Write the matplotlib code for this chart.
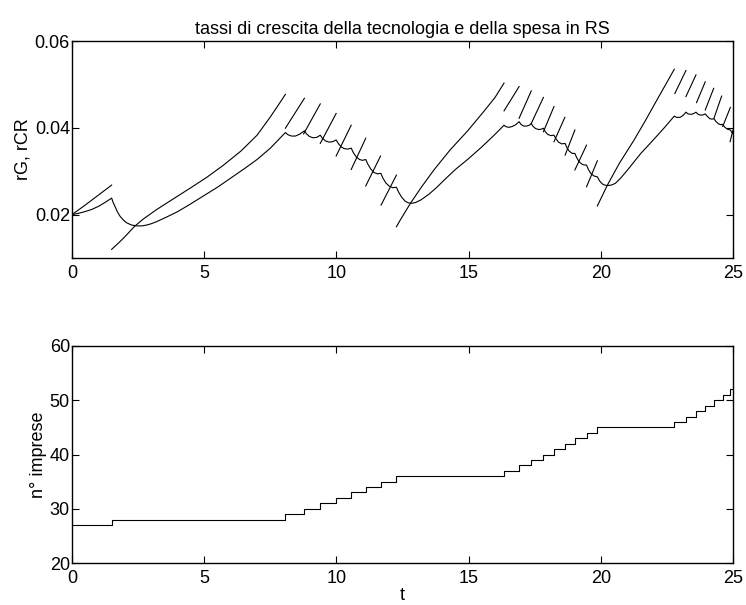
import matplotlib
matplotlib.use("Agg")
import matplotlib.pyplot as plt

plt.rcParams['font.family'] = ['Liberation Sans', 'DejaVu Sans']

# ---- top panel: rG (continuous curve) ----
rG_t = [0.0, 0.25, 0.5, 0.75, 1.0, 1.25, 1.50,
        1.55, 1.63, 1.72, 1.82, 1.95, 2.07, 2.25, 2.45, 2.65, 2.83, 3.0, 3.21, 3.6, 4.0, 4.47,
        5.0, 5.5, 6.0, 6.5, 7.0, 7.5, 8.07,
        8.17, 8.30, 8.45, 8.60, 8.79,
        8.87, 8.98, 9.12, 9.26, 9.39,
        9.47, 9.58, 9.72, 9.86, 9.99,
        10.07, 10.18, 10.30, 10.43, 10.56,
        10.64, 10.75, 10.87, 10.99, 11.11,
        11.19, 11.30, 11.42, 11.55, 11.68,
        11.76, 11.87, 11.99, 12.13, 12.27,
        12.35, 12.47, 12.60, 12.72, 12.85, 13.0, 13.2, 13.5, 13.8, 14.1, 14.5, 15.0, 15.5,
        16.0, 16.34,
        16.40, 16.52, 16.65, 16.78, 16.91,
        16.98, 17.08, 17.20, 17.30, 17.37,
        17.44, 17.54, 17.66, 17.76, 17.83,
        17.90, 17.99, 18.10, 18.23,
        18.30, 18.40, 18.52, 18.65,
        18.72, 18.81, 18.92, 19.02,
        19.09, 19.19, 19.32, 19.46,
        19.53, 19.62, 19.74, 19.87,
        19.95, 20.05, 20.15, 20.25, 20.40, 20.55, 20.75, 21.0, 21.5, 22.0, 22.4, 22.78,
        22.86, 23.00, 23.12, 23.22,
        23.30, 23.42, 23.52, 23.60,
        23.68, 23.78, 23.88, 23.95,
        24.02, 24.12, 24.21, 24.28,
        24.35, 24.45, 24.54, 24.61,
        24.68, 24.78, 24.90,
        24.95, 25.0]
rG_y = [0.0200, 0.0203, 0.0207, 0.0212, 0.0219, 0.0228, 0.0238,
        0.0229, 0.0218, 0.0206, 0.0196, 0.0187, 0.0181, 0.0176, 0.0174, 0.0174, 0.0176, 0.0179,
        0.0184, 0.0195, 0.0207, 0.0224,
        0.0244, 0.0263, 0.0284, 0.0305, 0.0327, 0.0353, 0.0389,
        0.0384, 0.0381, 0.0381, 0.0385, 0.0393,
        0.0386, 0.0380, 0.0377, 0.0378, 0.0383,
        0.0376, 0.0370, 0.0367, 0.0368, 0.0372,
        0.0364, 0.0356, 0.0352, 0.0351, 0.0353,
        0.0343, 0.0333, 0.0327, 0.0325, 0.0327,
        0.0316, 0.0305, 0.0297, 0.0294, 0.0295,
        0.0284, 0.0273, 0.0266, 0.0262, 0.0263,
        0.0252, 0.0240, 0.0231, 0.0227, 0.0226, 0.0228, 0.0234, 0.0247, 0.0263, 0.0281, 0.0304,
        0.0329, 0.0356, 0.0385, 0.0406,
        0.0403, 0.0401, 0.0403, 0.0407, 0.0414,
        0.0408, 0.0404, 0.0404, 0.0406, 0.0410,
        0.0403, 0.0398, 0.0396, 0.0397, 0.0399,
        0.0391, 0.0385, 0.0382, 0.0383,
        0.0375, 0.0367, 0.0363, 0.0364,
        0.0354, 0.0346, 0.0341, 0.0341,
        0.0331, 0.0321, 0.0315, 0.0314,
        0.0304, 0.0295, 0.0289, 0.0287,
        0.0278, 0.0271, 0.0268, 0.0267, 0.0268, 0.0272, 0.0284, 0.0302, 0.0340, 0.0373, 0.0400,
        0.0427,
        0.0424, 0.0424, 0.0429, 0.0436,
        0.0432, 0.0431, 0.0433, 0.0436,
        0.0431, 0.0429, 0.0430, 0.0432,
        0.0427, 0.0421, 0.0420, 0.0421,
        0.0415, 0.0409, 0.0407, 0.0408,
        0.0402, 0.0397, 0.0395,
        0.0390, 0.0386]

# ---- top panel: rCR (one piece between consecutive firm entries) ----
rCR_t = [
    [0.0, 0.5, 1.0, 1.50],
    [1.50, 1.75, 2.0, 2.35, 2.7, 3.21, 3.8, 4.47, 5.1, 5.73, 6.4, 7.0, 7.5, 7.8, 8.07],
    [8.07, 8.79], [8.76, 9.39], [9.39, 9.99], [9.99, 10.56], [10.56, 11.11],
    [11.11, 11.67], [11.69, 12.27],
    [12.27, 12.42, 12.8, 13.2, 13.69, 14.3, 14.95, 15.58, 16.0, 16.34],
    [16.34, 16.91], [16.91, 17.37], [17.37, 17.83], [17.83, 18.23], [18.23, 18.64],
    [18.65, 19.02], [19.02, 19.46], [19.46, 19.87],
    [19.87, 20.25, 20.7, 21.26, 21.7, 22.02, 22.4, 22.78],
    [22.80, 23.22], [23.22, 23.60], [23.62, 23.95], [23.95, 24.27], [24.28, 24.57],
    [24.61, 24.90], [24.89, 25.0],
]
rCR_y = [
    [0.0200, 0.0222, 0.0245, 0.0268],
    [0.0120, 0.0134, 0.0149, 0.0172, 0.0190, 0.0212, 0.0235, 0.0261, 0.0286, 0.0314, 0.0347,
     0.0383, 0.0425, 0.0452, 0.0477],
    [0.0399, 0.0468], [0.0386, 0.0455], [0.0364, 0.0433], [0.0335, 0.0406], [0.0304, 0.0376],
    [0.0266, 0.0335], [0.0222, 0.0291],
    [0.0172, 0.0188, 0.0226, 0.0262, 0.0303, 0.0349, 0.0392, 0.0438, 0.0470, 0.0503],
    [0.0439, 0.0495], [0.0422, 0.0485], [0.0410, 0.0470], [0.0391, 0.0449], [0.0368, 0.0424],
    [0.0337, 0.0395], [0.0303, 0.0360], [0.0264, 0.0324],
    [0.0220, 0.0268, 0.0318, 0.0372, 0.0418, 0.0453, 0.0494, 0.0535],
    [0.0479, 0.0532], [0.0472, 0.0522], [0.0458, 0.0506], [0.0441, 0.0491], [0.0422, 0.0473],
    [0.0403, 0.0447], [0.0368, 0.0395],
]

# ---- bottom panel: number of firms (step function) ----
firm_t = [0.0, 1.50, 8.07, 8.79, 9.39, 9.99, 10.56, 11.11, 11.68, 12.27,
          16.34, 16.91, 17.37, 17.83, 18.23, 18.65, 19.02, 19.46, 19.87,
          22.78, 23.22, 23.60, 23.95, 24.28, 24.61, 24.90, 25.0]
firm_n = [27, 28, 29, 30, 31, 32, 33, 34, 35, 36,
          37, 38, 39, 40, 41, 42, 43, 44, 45,
          46, 47, 48, 49, 50, 51, 52, 52]

title_txt = "tassi di crescita della tecnologia e della spesa in RS"
top_xticks = [0, 5, 10, 15, 20, 25]
top_yticks = [0.02, 0.04, 0.06]
top_yticklabels = ["0.02", "0.04", "0.06"]
bot_yticks = [20, 30, 40, 50, 60]

W, H = 746, 605
fig = plt.figure(figsize=(W / 100, H / 100), dpi=100)
ax1 = fig.add_axes([72 / W, (H - 258) / H, 661 / W, 217 / H])
ax2 = fig.add_axes([72 / W, (H - 563) / H, 661 / W, 217 / H])

lw = 0.8
ax1.plot(rG_t, rG_y, color='black', lw=lw)
for ts, ys in zip(rCR_t, rCR_y):
    ax1.plot(ts, ys, color='black', lw=lw)
ax1.set_xlim(0, 25)
ax1.set_ylim(0.01, 0.06)
ax1.set_xticks(top_xticks)
ax1.set_yticks(top_yticks)
ax1.set_yticklabels(top_yticklabels)
ax1.set_ylabel("rG, rCR", fontsize=13, labelpad=2)
ax1.set_title(title_txt, fontsize=13, pad=5)

ax2.step(firm_t, firm_n, where='post', color='black', lw=lw)
ax2.set_xlim(0, 25)
ax2.set_ylim(20, 60)
ax2.set_xticks(top_xticks)
ax2.set_yticks(bot_yticks)
ax2.set_xlabel("t", fontsize=13, labelpad=0)
ax2.set_ylabel("n° imprese", fontsize=13, labelpad=2)

for ax in (ax1, ax2):
    ax.tick_params(direction='in', length=5, width=0.8, top=True, right=True,
                   labelsize=13)
    ax.tick_params(axis='x', pad=5)
    ax.tick_params(axis='y', pad=1.5)
    for s in ax.spines.values():
        s.set_linewidth(1.0)

fig.savefig("out.png", dpi=100)
